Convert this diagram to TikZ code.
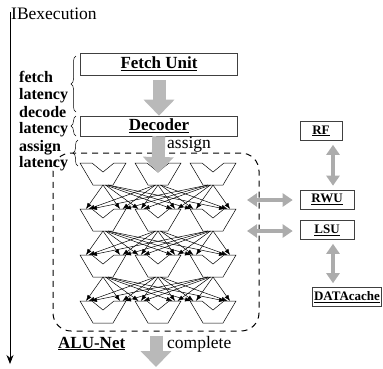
\documentclass[tikz,border=0pt]{standalone}
\usepackage{fontspec}
\setmainfont{Liberation Serif}
\usetikzlibrary{arrows.meta,decorations.pathreplacing,positioning}

\tikzset{
  unit/.style={draw=black!75, line width=0.6pt, inner sep=1pt, minimum height=20pt,
    font=\fontsize{17}{20}\selectfont\bfseries},
  sideunit/.style={unit, minimum height=19pt, inner sep=1.5pt, font=\fontsize{13}{15}\selectfont\bfseries},
  bigflow/.style={line width=13pt, gray!55, -{Triangle[length=16pt,width=30pt]}},
  busflow/.style={line width=4.5pt, gray!65, {Triangle[length=10pt,width=13pt]}-{Triangle[length=10pt,width=13pt]}},
  lat/.style={anchor=base west, inner sep=0pt, font=\fontsize{16}{18}\selectfont\bfseries},
  plain/.style={anchor=base west, inner sep=0pt, font=\fontsize{17.5}{20}\selectfont},
  wire/.style={line width=0.5pt, -{Latex[length=6pt,width=4.5pt]}},
  alu/.style={line width=0.5pt},
  latbrace/.style={decorate, decoration={brace, amplitude=5pt}, line width=0.5pt},
}

\begin{document}
\begin{tikzpicture}[x=1pt, y=-1pt]
  \useasboundingbox (0,0) rectangle (383,368);

  % time axis
  \coordinate (t0) at (10,12);
  \coordinate (t1) at (10,364);
  \draw[line width=0.8pt, -{Stealth[length=9pt,width=7pt]}] (t0) -- (t1);
  \node[plain] (ib) at (11,19) {IBexecution};

  % front end
  \node[unit, minimum width=157pt, minimum height=22pt] (fetch) at (159,64) {\underline{Fetch Unit}};
  \node[unit, minimum width=157pt] (dec) at (159,126) {\underline{Decoder}};
  \draw[bigflow, shorten <=5pt] (fetch) -- (dec);

  % latencies
  \node[lat] (l1) at (19,82) {fetch};
  \node[lat] (l2) at (19,99) {latency};
  \node[lat] (l3) at (19,117) {decode};
  \node[lat] (l4) at (19,133) {latency};
  \node[lat] (l5) at (19,151) {assign};
  \node[lat] (l6) at (19,167) {latency};
  \draw[latbrace] (76,112) -- (76,56);
  \draw[latbrace] (76,136) -- (76,116);
  \draw[latbrace] (78,166) -- (78,140);

  % ALU net
  \node[draw, dashed, dash pattern=on 6pt off 5pt, line width=1pt, rounded corners=18pt,
    minimum width=206pt, minimum height=178pt, inner sep=0pt] (net) at (156,242) {};

  \foreach \r in {1,...,4}
    \foreach \c in {1,2,3}{
      \pgfmathsetmacro\cx{48+55*\c}
      \pgfmathsetmacro\ty{117+46*\r}
      \draw[alu] (\cx-23,\ty) -- (\cx-11,\ty) -- (\cx,\ty+9) -- (\cx+11,\ty)
        -- (\cx+23,\ty) -- (\cx+10,\ty+22) -- (\cx-10,\ty+22) -- cycle;
      \coordinate (inl-\r-\c) at (\cx-17,\ty);
      \coordinate (inr-\r-\c) at (\cx+17,\ty);
      \coordinate (out-\r-\c) at (\cx,\ty+22);
    }

  \foreach \r in {1,2,3}{
    \pgfmathtruncatemacro\rr{\r+1}
    \foreach \s in {1,2,3}
      \foreach \t in {1,2,3}{
        \pgfmathsetmacro\dx{2.5*(\t-\s)}
        \pgfmathsetmacro\ex{2.5*(\s-\t)}
        \draw[wire] ([xshift=\dx]out-\r-\s) -- ([xshift=\ex]inl-\rr-\t);
        \draw[wire] ([xshift=\dx]out-\r-\s) -- ([xshift=\ex]inr-\rr-\t);
      }
  }

  \coordinate (asn) at (158,173);
  \draw[bigflow] (dec) -- (asn);
  \node[plain] (assign) at (167,148) {assign};

  \node[anchor=base west, inner sep=0pt, font=\fontsize{17}{20}\selectfont\bfseries] (alunet) at (58,348) {\underline{ALU-Net}};
  \coordinate (done) at (156,367);
  \draw[bigflow, shorten <=4pt] (net.south) -- (done);
  \node[plain] (complete) at (167,348) {complete};

  % register and memory side
  \node[sideunit, minimum width=42pt] (rf) at (321,131) {\underline{RF}};
  \node[sideunit, minimum width=54pt] (rwu) at (327,199.5) {\underline{RWU}};
  \node[sideunit, minimum width=54pt] (lsu) at (327,230) {\underline{LSU}};
  \node[sideunit] (dcache) at (347,297) {\underline{DATAcache}};

  \draw[busflow, shorten <=4pt, shorten >=4pt] ([xshift=12pt]rf.south) -- ([xshift=12pt]rf.south |- rwu.north);
  \draw[busflow, shorten <=4pt, shorten >=4pt] ([xshift=6pt]lsu.south) -- ([xshift=6pt]lsu.south |- dcache.north);
  \coordinate (p1) at (247,200);
  \coordinate (p2) at (247,231);
  \draw[busflow, shorten >=7pt] (p1) -- (p1 -| rwu.west);
  \draw[busflow, shorten >=7pt] (p2) -- (p2 -| lsu.west);
\end{tikzpicture}
\end{document}
